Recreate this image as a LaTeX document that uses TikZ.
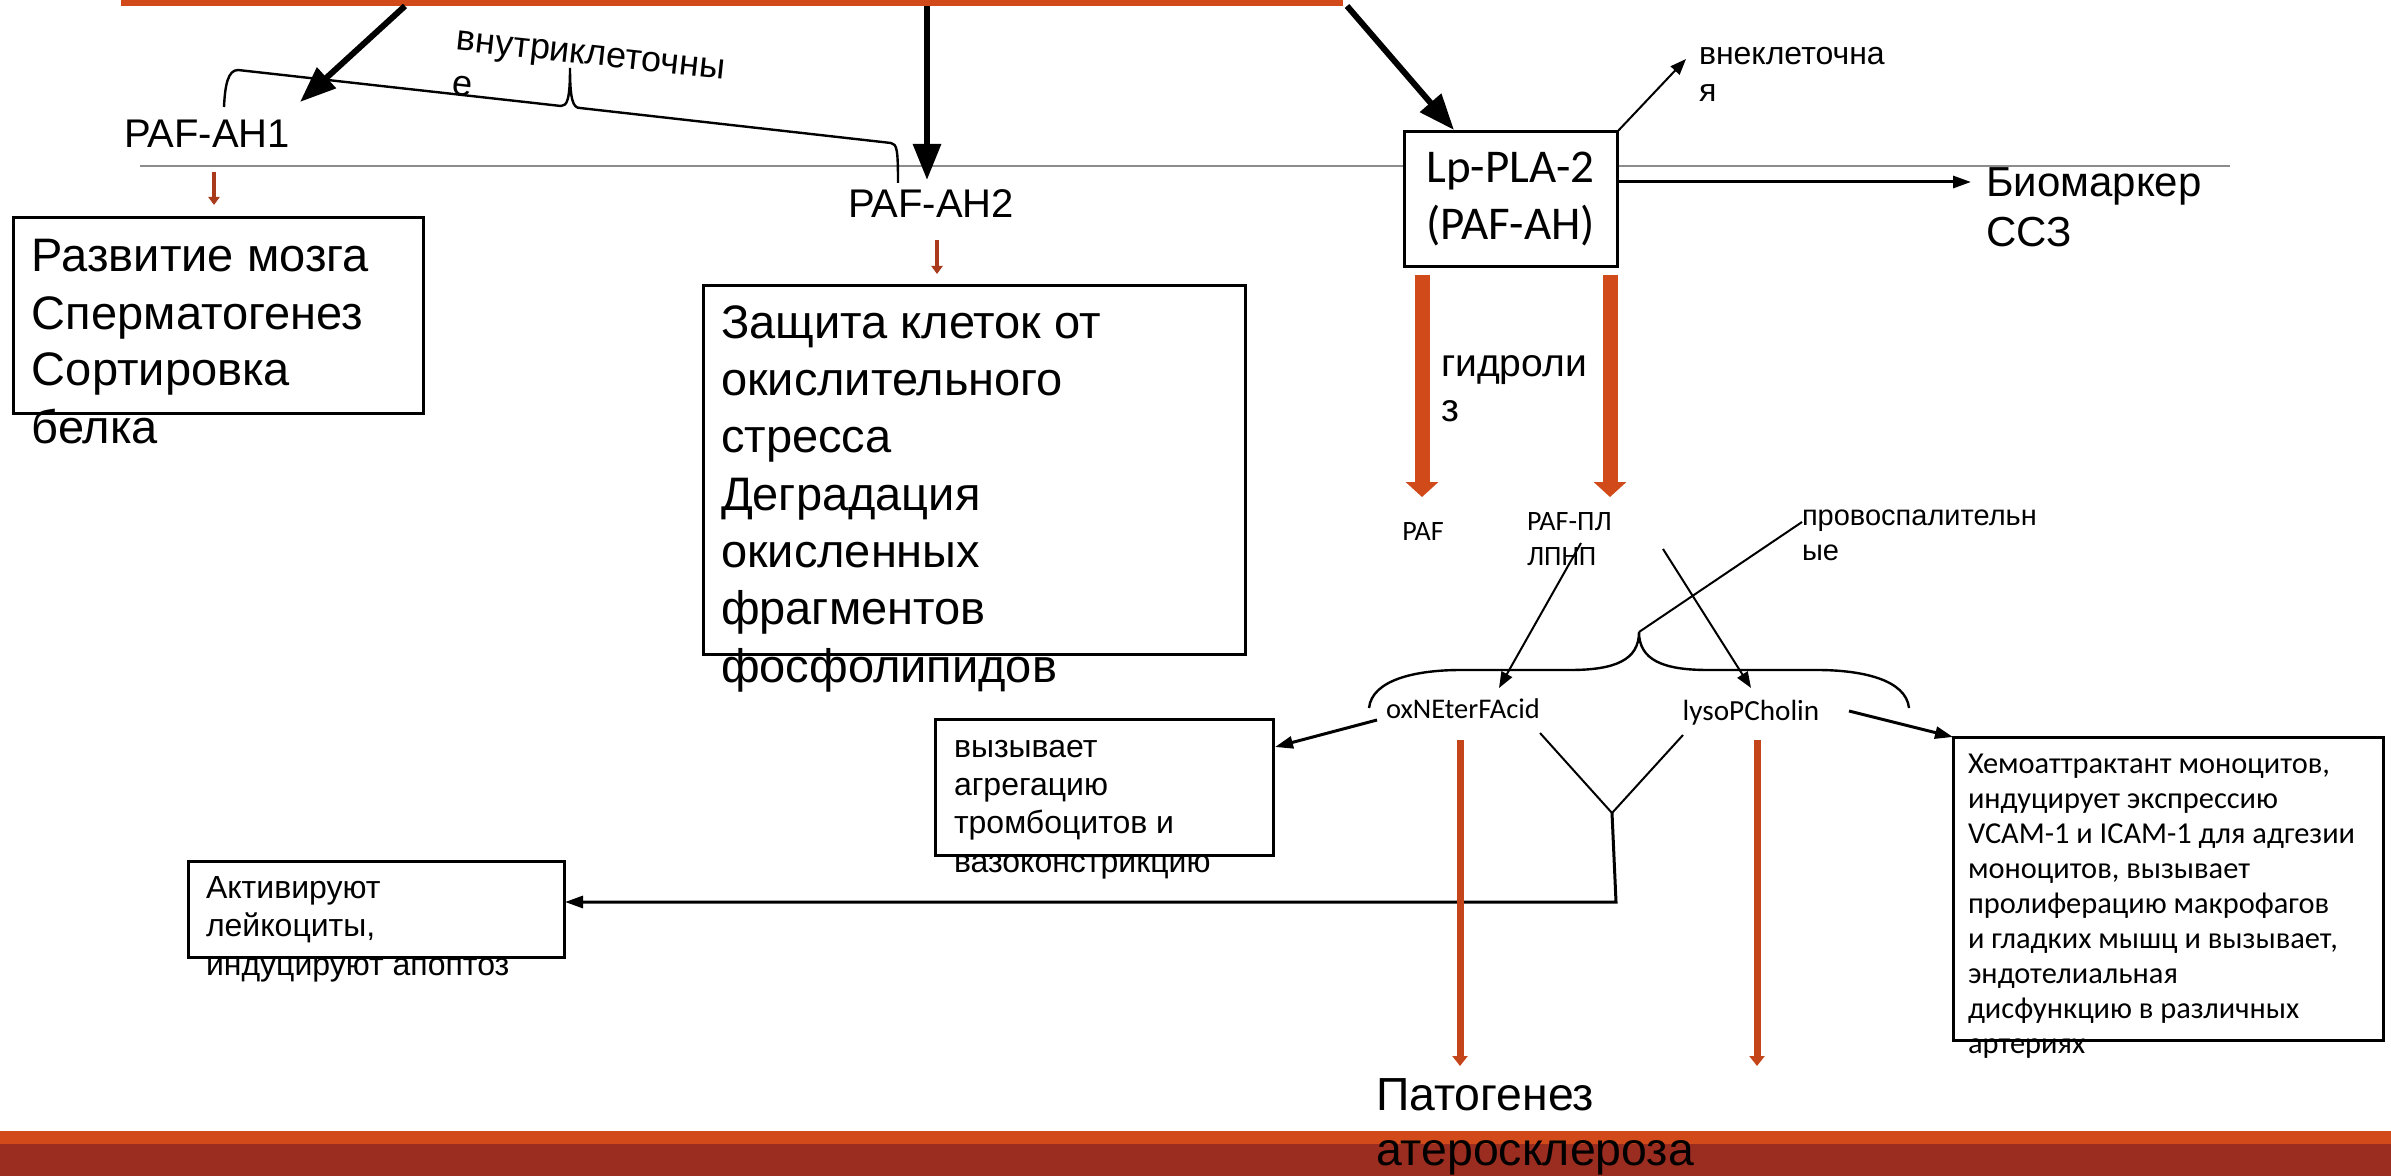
\documentclass[tikz,border=0pt]{standalone}
\usepackage{fontspec}
\setmainfont{Liberation Sans}
\newfontfamily\calib{Carlito}
\usetikzlibrary{arrows.meta}
\definecolor{barorange}{HTML}{D24A19}
\definecolor{bardark}{HTML}{9B2D20}
\definecolor{arrred}{HTML}{A93A1C}
\definecolor{blockor}{HTML}{D04A1A}
\definecolor{slimor}{HTML}{C4451A}
\definecolor{linegray}{HTML}{8C8C8C}
\newcommand{\myfs}[2]{\fontsize{#1pt}{#2pt}\selectfont}
\begin{document}
\begin{tikzpicture}[x=0.5pt,y=-0.5pt,
  every node/.style={inner sep=0pt, outer sep=0pt},
  txt/.style={anchor=base west, align=left},
  boxst/.style={draw=black, line width=1.5pt, rectangle},
  bigarrow/.style={line width=3pt, -{Triangle[length=18pt,width=13.5pt]}},
  thinarrow/.style={line width=1pt, -{Triangle[length=8pt,width=6pt]}},
  medarrow/.style={line width=1.5pt, -{Triangle[length=9pt,width=6pt]}},
  redarrow/.style={draw=arrred, line width=2pt, -{Triangle[length=4pt,width=5.5pt]}},
  blockarrow/.style={draw=blockor, line width=7.5pt, -{Triangle[length=7.5pt,width=16pt]}},
  slimarrow/.style={draw=slimor, line width=3.5pt, -{Triangle[length=5pt,width=7.5pt]}},
  plainline/.style={line width=1pt},
  bracest/.style={line width=1.2pt},
]
% multi-line text nodes are anchored at the baseline of their LAST line
\useasboundingbox (0,0) rectangle (2391,1176);
\fill[white] (0,0) rectangle (2391,1176);

% bars
\node[fill=barorange, minimum width=611pt, minimum height=3pt, anchor=north west] (topbar) at (121,0) {};
\fill[barorange] (0,1131) rectangle (2391,1144);
\fill[bardark] (0,1144) rectangle (2391,1176);

% membrane line
\draw[linegray, line width=1pt] (140,166) -- (2230,166);

% labels
\node[txt, font=\myfs{20}{24}] (pafah1) at (124,148) {PAF-AH1};
\node[txt, font=\myfs{20}{24}] (pafah2) at (848,218) {PAF-AH2};

% boxes
\node[boxst, minimum width=205pt, minimum height=97.5pt] (b1) at (218,315.5) {};
\node[txt, font=\myfs{23.5}{28.5}] (t1) at (32,443) {Развитие мозга\\Сперматогенез\\Сортировка\\белка};

\node[boxst, minimum width=271pt, minimum height=184pt] (b2) at (974,470) {};
\node[txt, font=\myfs{23.5}{28.65}] (t2) at (721,682) {Защита клеток от\\окислительного\\стресса\\Деградация\\окисленных\\фрагментов\\фосфолипидов};

\node[boxst, fill=white, minimum width=106.5pt, minimum height=67.5pt, font=\calib\myfs{23.5}{28.5}, align=center] (lp) at (1510.5,199.5) {Lp-PLA-2\\(PAF-AH)};

% arrows from top bar
\coordinate (s1) at (405,6);  \coordinate (e1) at (300,102);
\coordinate (s2) at (927,6);  \coordinate (e2) at (927,180);
\coordinate (s3) at (1347,6); \coordinate (e3) at (1454,130);
\draw[bigarrow] (s1) -- (e1);
\draw[bigarrow] (s2) -- (e2);
\draw[bigarrow] (s3) -- (e3);

% intracellular brace
\draw[bracest] (224,107) .. controls (225,85) and (228,70) .. (238,70) -- (561,106)
  .. controls (567,106) and (570,100) .. (570,68)
  .. controls (570,100) and (573,108) .. (580,108) -- (891,143)
  .. controls (897,144) and (898,150) .. (898,183);
\node[txt, rotate=-6.2, font=\myfs{18}{22.5}] (intra) at (451.1,94.7) {внутриклеточны\\е};

% small red arrows
\coordinate (r1s) at (214,172); \coordinate (r1e) at (214,205);
\coordinate (r2s) at (937,240); \coordinate (r2e) at (937,274);
\draw[redarrow] (r1s) -- (r1e);
\draw[redarrow] (r2s) -- (r2e);

% extracellular
\coordinate (ve) at (1686,59);
\draw[thinarrow] (lp.north east) -- (ve);
\node[txt, font=\myfs{16}{18.5}] (vne) at (1699,102) {внеклеточна\\я};

\coordinate (bms) at (1617,182); \coordinate (bme) at (1971,182);
\draw[medarrow] (bms) -- (bme);
\node[txt, font=\myfs{21}{25}] (bio) at (1986,247) {Биомаркер\\ССЗ};

% hydrolysis
\coordinate (h1s) at (1422,275); \coordinate (h1e) at (1422,497);
\coordinate (h2s) at (1610,275); \coordinate (h2e) at (1610,497);
\draw[blockarrow] (h1s) -- (h1e);
\draw[blockarrow] (h2s) -- (h2e);
\node[txt, font=\myfs{19.5}{22.5}] (hyd) at (1441,422) {гидроли\\з};

\node[anchor=base, font=\calib\myfs{14}{17.5}] (paf) at (1423,540) {PAF};
\node[txt, font=\calib\myfs{14}{17.5}] (pafpl) at (1527,565) {PAF-ПЛ\\ЛПНП};

% pro-inflammatory brace
\draw[bracest] (1369,708) .. controls (1372,680) and (1415,670) .. (1461,670) -- (1570,670)
  .. controls (1615,670) and (1639,660) .. (1639,632)
  .. controls (1639,660) and (1663,670) .. (1708,670) -- (1817,670)
  .. controls (1863,670) and (1906,680) .. (1909,708);
\coordinate (btip) at (1639,632);
\coordinate (provpt) at (1802,522);
\draw[plainline] (btip) -- (provpt);
\node[txt, font=\myfs{14.5}{17.5}] (prov) at (1802,560) {провоспалительн\\ые};

% products
\node[anchor=base, font=\calib\myfs{14.25}{17}] (ox) at (1463,718) {oxNEterFAcid};
\node[anchor=base, font=\calib\myfs{14.6}{17}] (lyso) at (1751,720) {lysoPCholin};

\coordinate (p1s) at (1581,543); \coordinate (p1e) at (1499,688);
\coordinate (p2s) at (1663,549); \coordinate (p2e) at (1751,688);
\draw[thinarrow] (p1s) -- (p1e);
\draw[thinarrow] (p2s) -- (p2e);

% effect boxes
\node[boxst, minimum width=169pt, minimum height=68pt] (bv) at (1104,787) {};
\node[txt, font=\myfs{16}{19.2}] (tv) at (954,872.2) {вызывает\\агрегацию\\тромбоцитов и\\вазоконстрикцию};

\node[boxst, minimum width=188pt, minimum height=48pt] (ba) at (376,909) {};
\node[txt, font=\myfs{16}{19.25}] (ta) at (206,975) {Активируют\\лейкоциты,\\индуцируют апоптоз};

\node[boxst, minimum width=215pt, minimum height=151.5pt] (bh) at (2168,888.5) {};
\node[txt, font=\calib\myfs{15.2}{17.5}] (th) at (1968,1053) {Хемоаттрактант моноцитов,\\индуцирует экспрессию\\VCAM-1 и ICAM-1 для адгезии\\моноцитов, вызывает\\пролиферацию макрофагов\\и гладких мышц и вызывает,\\эндотелиальная\\дисфункцию в различных\\артериях};

\coordinate (oxs) at (1377,720); \coordinate (oxe) at (1275,747);
\draw[medarrow] (oxs) -- (oxe);
\coordinate (lys) at (1849,711);
\draw[medarrow] (lys) -- (bh.north west);

% Y junction
\coordinate (y1) at (1540,733);
\coordinate (y2) at (1683,735);
\coordinate (yj) at (1612,813);
\coordinate (yb) at (1616,902);
\coordinate (ye) at (565,902);
\draw[plainline] (y1) -- (yj) -- (y2);
\draw[medarrow] (yj) -- (yb) -- (ye);

% slim orange arrows
\coordinate (o1s) at (1460,740); \coordinate (o1e) at (1460,1066);
\coordinate (o2s) at (1757,740); \coordinate (o2e) at (1757,1066);
\draw[slimarrow] (o1s) -- (o1e);
\draw[slimarrow] (o2s) -- (o2e);

\node[txt, font=\myfs{23.2}{27.5}] (pat) at (1376,1165) {Патогенез\\атеросклероза};
\end{tikzpicture}
\end{document}
